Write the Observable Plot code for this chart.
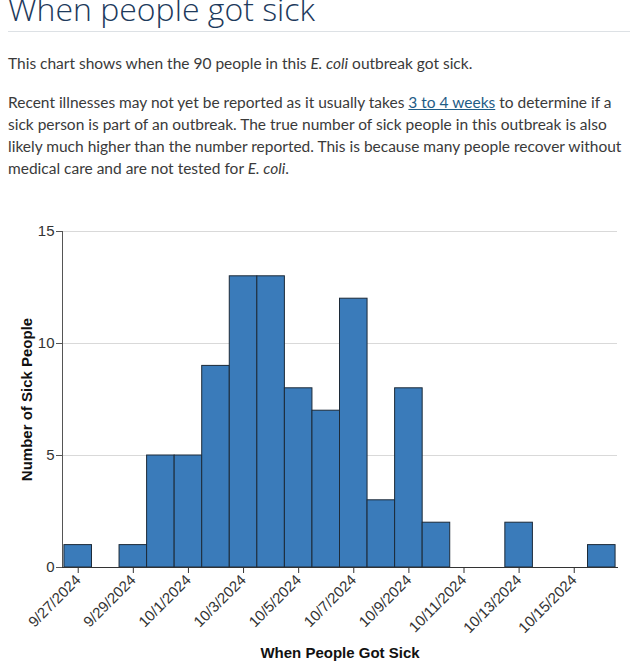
<!DOCTYPE html>
<html><head><meta charset="utf-8">
<script src="https://cdn.jsdelivr.net/npm/d3@7"></script>
<script src="https://cdn.jsdelivr.net/npm/@observablehq/plot@0.6"></script>
<style>
body{margin:0;width:634px;height:661px;overflow:hidden;background:#fff;position:relative;}
#title{position:absolute;left:8px;top:-7px;font-family:"Open Sans";font-weight:300;font-size:32px;line-height:32px;color:#1d3a5c;white-space:nowrap;}
#rule{position:absolute;left:8px;right:4px;top:31px;height:0;border-top:1px solid #dde1e5;}
.p{position:absolute;left:8px;font-family:Lato;font-size:15.5px;line-height:22px;color:#3a3a3a;white-space:nowrap}
.p a{color:#1f5c86;text-decoration:underline}
#chart{position:absolute;left:0;top:190px}
</style></head>
<body>
<div id="title">When people got sick</div>
<div id="rule"></div>
<div class="p" style="top:52px">This chart shows when the 90 people in this <i>E. coli</i> outbreak got sick.</div>
<div class="p" style="top:91px">Recent illnesses may not yet be reported as it usually takes <a href="#">3 to 4 weeks</a> to determine if a<br>sick person is part of an outbreak. The true number of sick people in this outbreak is also<br>likely much higher than the number reported. This is because many people recover without<br>medical care and are not tested for <i>E. coli</i>.</div>
<div id="chart"></div>
<script>
const dates = ["2024-09-27","2024-09-28","2024-09-29","2024-09-30","2024-10-01","2024-10-02","2024-10-03","2024-10-04","2024-10-05","2024-10-06","2024-10-07","2024-10-08","2024-10-09","2024-10-10","2024-10-11","2024-10-12","2024-10-13","2024-10-14","2024-10-15","2024-10-16"];
const counts = [1,0,1,5,5,9,13,13,8,7,12,3,8,2,0,0,2,0,0,1];
const tickDates = ["2024-09-27","2024-09-29","2024-10-01","2024-10-03","2024-10-05","2024-10-07","2024-10-09","2024-10-11","2024-10-13","2024-10-15"];
const yTicks = [0,5,10,15];
const xTitle = "When People Got Sick";
const yTitle = "Number of Sick People";

const DAY = 864e5;
const data = dates.map((d,i)=>({date:new Date(d+"T00:00:00Z"), count:counts[i]})).filter(d=>d.count>0);
const first = new Date(dates[0]+"T00:00:00Z"), last = new Date(dates[dates.length-1]+"T00:00:00Z");
const fmt = d3.utcFormat("%-m/%-d/%Y");

const chart = Plot.plot({
  width:634, height:471,
  marginTop:41, marginBottom:94, marginLeft:62, marginRight:17,
  style:{fontFamily:"'Liberation Sans', Arial, sans-serif", fontSize:"15px", color:"#333", background:"transparent", overflow:"visible"},
  x:{type:"utc", domain:[new Date(+first-0.57*DAY), new Date(+last+0.57*DAY)]},
  y:{domain:[0,15]},
  marks:[
    Plot.gridY(yTicks.filter(t=>t>0),{stroke:"#d9d9d9", strokeOpacity:1}),
    Plot.rect(data,{x1:d=>new Date(+d.date-DAY/2), x2:d=>new Date(+d.date+DAY/2), y1:0, y2:"count", fill:"#3a7bba", stroke:"#1c2a38", strokeWidth:1}),
    Plot.frame({anchor:"left", stroke:"#555"}),
    Plot.frame({anchor:"bottom", stroke:"#333"}),
    Plot.axisY(yTicks,{tickSize:6, tickPadding:2, label:null, tickFormat:d=>String(d), fontSize:15, stroke:"#555"}),
    Plot.axisX(tickDates.map(d=>new Date(d+"T00:00:00Z")),{tickSize:6, tickPadding:4, tickRotate:-45, tickFormat:fmt, label:null, fontSize:15, stroke:"#333"}),
    Plot.text([yTitle],{text:d=>d, frameAnchor:"left", textAnchor:"middle", dx:-35, rotate:-90, fontWeight:"bold", fontSize:15, fill:"#111"}),
    Plot.text([xTitle],{text:d=>d, frameAnchor:"bottom", textAnchor:"middle", dy:90, fontWeight:"bold", fontSize:15, fill:"#111"})
  ]
});
document.getElementById("chart").appendChild(chart);
</script>
</body></html>
